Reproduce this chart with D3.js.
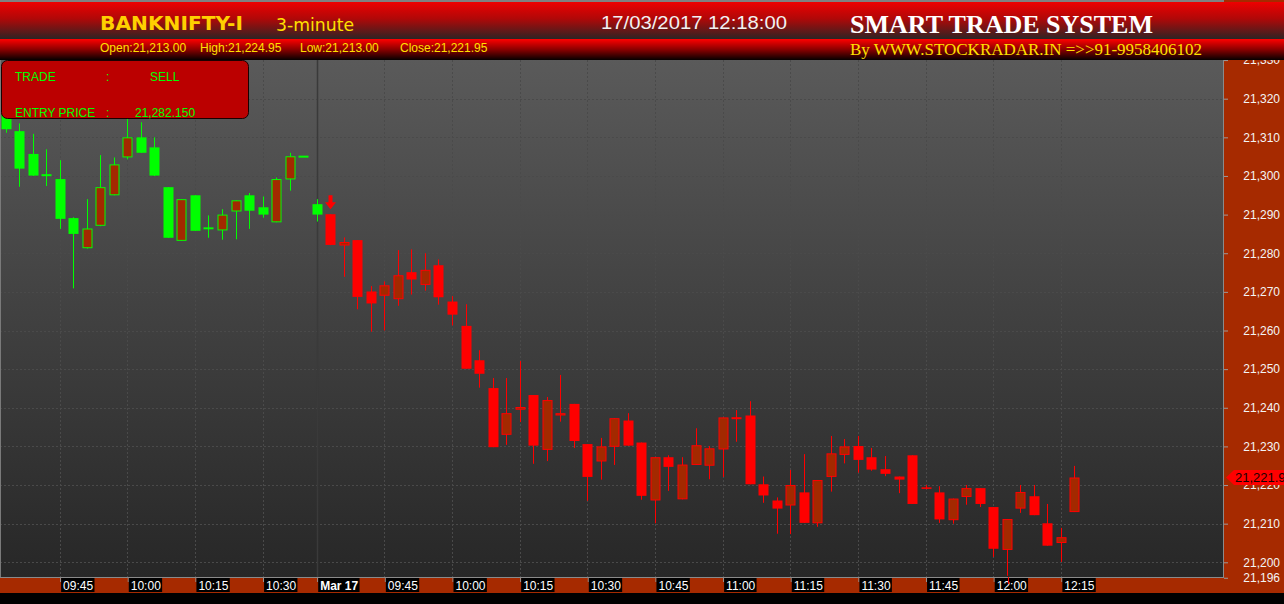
<!DOCTYPE html>
<meta charset="utf-8">
<style>
  body { margin: 0; background: #000; }
  svg { display: block; }
</style>

<!-- Load d3.js -->
<script src="https://d3js.org/d3.v7.min.js"></script>

<svg id="chart"></svg>

<script>

// 3-minute bars, index 0 = 09:33 previous session, index 23 = 09:30 Mar 17
var open  = [21316.0, 21311.6, 21305.7, 21300.2, 21299.2, 21289.1, 21281.3, 21287.1, 21295.0, 21304.8,
             21310.0, 21307.4, 21297.1, 21283.2, 21295.0, 21286.7, 21285.9, 21290.8, 21295.0, 21291.9,
             21288.0, 21299.1, 21305.0, 21292.7, 21290.1, 21282.0, 21283.4, 21270.1, 21269.0, 21268.1,
             21275.1, 21271.8, 21276.9, 21267.5, 21261.2, 21252.3, 21245.1, 21233.0, 21239.5, 21243.3,
             21229.1, 21238.0, 21241.0, 21230.6, 21226.1, 21229.9, 21236.7, 21231.0, 21216.0, 21227.2,
             21216.3, 21225.2, 21225.0, 21229.2, 21237.3, 21238.0, 21220.2, 21216.0, 21214.7, 21218.1,
             21210.1, 21222.1, 21227.8, 21230.1, 21227.2, 21224.1, 21222.2, 21227.7, 21219.4, 21218.1,
             21210.9, 21216.9, 21219.2, 21214.3, 21203.2, 21213.9, 21217.1, 21210.1, 21205.0, 21213.0];
var high  = [21318.0, 21313.6, 21310.9, 21306.9, 21304.1, 21289.3, 21294.0, 21305.4, 21304.8, 21316.0,
             21313.9, 21310.0, 21297.1, 21294.0, 21295.0, 21289.8, 21291.4, 21293.7, 21295.6, 21294.7,
             21299.6, 21306.0, 21305.0, 21294.0, 21290.1, 21284.1, 21283.4, 21271.5, 21272.7, 21280.8,
             21281.0, 21280.0, 21278.4, 21268.9, 21266.8, 21254.9, 21247.7, 21247.7, 21252.1, 21243.3,
             21242.8, 21248.5, 21241.0, 21230.6, 21232.2, 21237.3, 21238.6, 21231.0, 21227.2, 21227.7,
             21227.2, 21234.7, 21230.1, 21237.5, 21239.4, 21241.7, 21222.2, 21216.8, 21223.9, 21228.0,
             21221.3, 21232.7, 21231.9, 21232.7, 21229.6, 21227.5, 21222.2, 21227.7, 21220.0, 21219.7,
             21216.5, 21220.0, 21219.2, 21214.3, 21211.2, 21220.0, 21220.0, 21215.1, 21208.9, 21224.95];
var low   = [21311.2, 21297.2, 21300.0, 21297.4, 21286.3, 21270.9, 21281.2, 21287.0, 21295.0, 21304.3,
             21306.0, 21300.0, 21284.0, 21283.2, 21285.8, 21284.0, 21283.5, 21283.6, 21286.3, 21289.2,
             21288.0, 21296.2, 21305.0, 21288.2, 21282.1, 21273.9, 21265.5, 21259.7, 21260.0, 21266.4,
             21269.3, 21270.3, 21266.7, 21261.3, 21250.1, 21245.2, 21229.8, 21230.4, 21236.3, 21225.5,
             21226.2, 21236.4, 21229.6, 21215.9, 21221.4, 21225.2, 21230.2, 21216.2, 21210.1, 21218.5,
             21216.3, 21225.2, 21221.5, 21222.1, 21231.2, 21220.2, 21215.4, 21207.4, 21207.3, 21210.2,
             21209.2, 21218.3, 21225.6, 21223.2, 21223.7, 21222.3, 21217.9, 21215.1, 21218.9, 21210.2,
             21210.0, 21214.9, 21214.3, 21201.4, 21196.5, 21212.8, 21212.2, 21204.3, 21200.1, 21213.0];
var close = [21312.1, 21301.9, 21300.1, 21300.2, 21288.9, 21285.0, 21286.4, 21297.1, 21303.0, 21310.0,
             21306.0, 21300.1, 21284.0, 21294.0, 21285.8, 21286.2, 21290.0, 21293.7, 21291.0, 21290.0,
             21299.2, 21305.1, 21305.0, 21290.0, 21282.15, 21282.9, 21268.7, 21267.0, 21271.7, 21274.3,
             21273.2, 21275.7, 21268.6, 21264.1, 21250.1, 21248.8, 21229.8, 21238.6, 21240.2, 21230.2,
             21242.0, 21238.6, 21231.4, 21222.1, 21230.0, 21237.3, 21230.2, 21217.2, 21227.2, 21224.7,
             21225.3, 21230.3, 21229.5, 21237.5, 21237.3, 21220.2, 21217.3, 21213.9, 21220.0, 21210.2,
             21221.3, 21228.2, 21230.0, 21226.5, 21224.0, 21222.9, 21221.4, 21215.1, 21219.0, 21211.1,
             21216.5, 21219.2, 21215.1, 21203.5, 21211.2, 21218.2, 21212.2, 21204.3, 21206.5, 21221.95];

var sellIdx = 24;          // bar where the SELL signal fired
var dayStartIdx = 23;      // first bar of Mar 17
var markIdx = 74;          // cursor bar (low 21,196)

var tickIdx    = [4, 9, 14, 19, 23, 28, 33, 38, 43, 48, 53, 58, 63, 68, 73, 78];
var tickLabels = ["09:45", "10:00", "10:15", "10:30", "Mar 17", "09:45", "10:00", "10:15",
                  "10:30", "10:45", "11:00", "11:15", "11:30", "11:45", "12:00", "12:15"];

var yTicks = [21196, 21200, 21210, 21220, 21230, 21240, 21250, 21260, 21270, 21280,
              21290, 21300, 21310, 21320, 21330];
var gridLevels = [21200, 21210, 21220, 21230, 21240, 21250, 21260, 21270, 21280, 21290,
                  21300, 21310, 21320];

var lastBar = { open: "21,213.00", high: "21,224.95", low: "21,213.00", close: "21,221.95" };
var lastClose = 21221.95;
var entryPrice = "21,282.150";

var W = 1284, H = 604,
    plotTop = 60, plotBottom = 577, axisX = 1224;

var svg = d3.select("#chart").attr("width", W).attr("height", H);
var defs = svg.append("defs");

var x = d3.scaleLinear().domain([0, open.length - 1]).range([5.5, 1074.4]);
var y = d3.scaleLinear().domain([21200, 21320]).range([562.3, 98.7]);

function grad(id, stops) {
  var lg = defs.append("linearGradient").attr("id", id)
    .attr("x1", 0).attr("y1", 0).attr("x2", 0).attr("y2", 1);
  stops.forEach(function (s) {
    lg.append("stop").attr("offset", s[0]).attr("stop-color", s[1]);
  });
}
grad("plotBg", [[0, "#5a5a5a"], [1, "#272727"]]);
grad("head1", [[0, "#ee0000"], [0.45, "#b00808"], [1, "#2e2424"]]);
grad("head2", [[0, "#ff0000"], [0.5, "#8a0000"], [1, "#050000"]]);

// plot background
svg.append("rect").attr("x", 0).attr("y", plotTop)
  .attr("width", axisX).attr("height", plotBottom - plotTop)
  .attr("fill", "url(#plotBg)");

// grid
svg.append("g").selectAll("line").data(gridLevels).join("line")
  .attr("x1", 0).attr("x2", axisX)
  .attr("y1", function (d) { return Math.round(y(d)) + 0.5; })
  .attr("y2", function (d) { return Math.round(y(d)) + 0.5; })
  .attr("stroke", "#4a4a4a").attr("stroke-dasharray", "2,2");

svg.append("g").selectAll("line").data(tickIdx).join("line")
  .attr("x1", function (d) { return Math.round(x(d)) + 0.5; })
  .attr("x2", function (d) { return Math.round(x(d)) + 0.5; })
  .attr("y1", plotTop).attr("y2", plotBottom)
  .attr("stroke", function (d) { return d === dayStartIdx ? "#3a3a3a" : "#4a4a4a"; })
  .attr("stroke-width", function (d) { return d === dayStartIdx ? 1.5 : 1; })
  .attr("stroke-dasharray", function (d) { return d === dayStartIdx ? null : "2,2"; });

svg.append("line").attr("x1", 0.5).attr("x2", 0.5).attr("y1", plotTop).attr("y2", plotBottom)
  .attr("stroke", "#7a7a7a");

// candles
var hollowFill = "#a32900";
function trendColor(i) { return i < sellIdx ? "#00ff00" : "#ff0000"; }

var candle = svg.append("g").selectAll("g").data(d3.range(open.length)).join("g");

candle.append("line")
  .attr("x1", function (i) { return Math.round(x(i)) + 0.5; })
  .attr("x2", function (i) { return Math.round(x(i)) + 0.5; })
  .attr("y1", function (i) { return y(high[i]); })
  .attr("y2", function (i) { return y(low[i]); })
  .attr("stroke", trendColor);

candle.append("rect")
  .attr("x", function (i) { return Math.round(x(i)) - 4.5 + (close[i] > open[i] ? 0.5 : 0); })
  .attr("width", function (i) { return close[i] > open[i] ? 9 : 10; })
  .attr("y", function (i) {
    var t = y(Math.max(open[i], close[i]));
    if (close[i] === open[i]) return t - 1;
    return close[i] > open[i] ? t + 0.5 : t;
  })
  .attr("height", function (i) {
    var h = Math.abs(y(open[i]) - y(close[i]));
    if (close[i] === open[i]) return 2;
    return close[i] > open[i] ? Math.max(1, h - 1) : Math.max(1, h);
  })
  .attr("fill", function (i) { return close[i] > open[i] ? hollowFill : trendColor(i); })
  .attr("stroke", function (i) { return close[i] > open[i] ? trendColor(i) : "none"; });

// sell arrow
var ax = Math.round(x(sellIdx)) + 0.5, ay = y(high[sellIdx]) - 5;
svg.append("path")
  .attr("d", "M" + (ax - 2) + "," + (ay - 14) + "h4v7h3.5l-5.5,7l-5.5,-7h3.5z")
  .attr("fill", "#ff0000");

// trade box
svg.append("rect").attr("x", 1.5).attr("y", plotTop + 0.5)
  .attr("width", 247).attr("height", 58).attr("rx", 6)
  .attr("fill", "#bb0000").attr("stroke", "#1a0000");

var tradeText = svg.append("g").attr("fill", "#00ff00")
  .attr("font-family", "'Liberation Sans', Arial, sans-serif").attr("font-size", 12);
[[15, 81, "TRADE"], [106, 81, ":"], [150, 81, "SELL"],
 [15, 117, "ENTRY PRICE"], [106, 117, ":"], [135, 117, entryPrice]].forEach(function (t) {
  tradeText.append("text").attr("x", t[0]).attr("y", t[1]).text(t[2]);
});

// right price axis
svg.append("rect").attr("x", axisX).attr("y", 0).attr("width", W - axisX).attr("height", 593)
  .attr("fill", "#a62a00");
svg.append("line").attr("x1", axisX - 0.5).attr("x2", axisX - 0.5).attr("y1", plotTop).attr("y2", 593)
  .attr("stroke", "#8a8a8a");

var yAxis = svg.append("g").attr("transform", "translate(" + axisX + ",0)")
  .call(d3.axisRight(y).tickValues(yTicks).tickFormat(d3.format(",")).tickSize(4));
yAxis.select(".domain").remove();
yAxis.selectAll(".tick line").attr("stroke", "#9a9a9a");
yAxis.selectAll(".tick text")
  .attr("x", 56).attr("text-anchor", "end").attr("fill", "#f4f4f4")
  .attr("font-family", "'Liberation Sans', Arial, sans-serif").attr("font-size", 12);

// last price marker
var ly = y(lastClose);
svg.append("path")
  .attr("d", "M1226," + ly + "L1234," + (ly - 7.5) + "H1284V" + (ly + 7.5) + "H1234Z")
  .attr("fill", "#ff0000");
svg.append("text").attr("x", 1235).attr("y", ly + 4.5)
  .attr("fill", "#1a0000").attr("font-size", 13)
  .attr("font-family", "'Liberation Sans', Arial, sans-serif")
  .text(d3.format(",.2f")(lastClose));

// time axis
svg.append("rect").attr("x", 0).attr("y", plotBottom).attr("width", axisX).attr("height", 16)
  .attr("fill", "#a62a00");
svg.append("line").attr("x1", 0).attr("x2", axisX).attr("y1", plotBottom + 0.5).attr("y2", plotBottom + 0.5)
  .attr("stroke", "#8a8a8a");

var xAxis = svg.append("g").attr("transform", "translate(0," + (plotBottom + 1) + ")")
  .call(d3.axisBottom(x).tickValues(tickIdx)
    .tickFormat(function (d, i) { return tickLabels[i]; }).tickSize(4));
xAxis.select(".domain").remove();
xAxis.selectAll(".tick line").attr("stroke", "#9a9a9a").attr("transform", "translate(0.5,0)");
xAxis.selectAll(".tick text")
  .attr("x", 3).attr("y", 1).attr("dy", "0.9em").attr("text-anchor", "start")
  .attr("fill", "#ffffff")
  .attr("font-family", "'Liberation Sans', Arial, sans-serif").attr("font-size", 12)
  .attr("font-weight", function (d) { return d === dayStartIdx ? "bold" : null; });
xAxis.selectAll(".tick").each(function () {
  var t = d3.select(this), b = t.select("text").node().getBBox();
  t.insert("rect", "text").attr("x", 1).attr("y", 0)
    .attr("width", b.width + 3).attr("height", 14).attr("fill", "#000");
});

// cursor mark on time axis
svg.append("line")
  .attr("x1", Math.round(x(markIdx)) + 1.5).attr("x2", Math.round(x(markIdx)) + 1.5)
  .attr("y1", plotBottom).attr("y2", plotBottom + 7).attr("stroke", "#ff0000");

// header
svg.append("rect").attr("x", 0).attr("y", 0).attr("width", axisX).attr("height", 2).attr("fill", "#808080");
svg.append("rect").attr("x", 0).attr("y", 2).attr("width", W).attr("height", 37).attr("fill", "url(#head1)");
svg.append("rect").attr("x", 0).attr("y", 39).attr("width", W).attr("height", 21).attr("fill", "url(#head2)");

svg.append("text").attr("x", 100).attr("y", 30)
  .attr("font-family", "'DejaVu Sans', Verdana, sans-serif").attr("font-weight", "bold")
  .attr("font-size", 20).attr("fill", "#ffd000")
  .attr("textLength", 143).attr("lengthAdjust", "spacingAndGlyphs").text("BANKNIFTY-I");
svg.append("text").attr("x", 276).attr("y", 31)
  .attr("font-family", "'DejaVu Sans', sans-serif").attr("font-size", 18).attr("fill", "#ffe000")
  .attr("textLength", 78).attr("lengthAdjust", "spacingAndGlyphs").text("3-minute");
svg.append("text").attr("x", 601).attr("y", 29)
  .attr("font-family", "'Liberation Sans', Arial, sans-serif").attr("font-size", 19).attr("fill", "#f2f2f2")
  .attr("textLength", 186).attr("lengthAdjust", "spacingAndGlyphs").text("17/03/2017 12:18:00");
svg.append("text").attr("x", 850).attr("y", 33)
  .attr("font-family", "'Liberation Serif', 'Times New Roman', serif").attr("font-weight", "bold")
  .attr("font-size", 25).attr("fill", "#ffffff")
  .attr("textLength", 303).attr("lengthAdjust", "spacingAndGlyphs").text("SMART TRADE SYSTEM");

var ohlc = svg.append("g").attr("fill", "#ffe000")
  .attr("font-family", "'Liberation Sans', Arial, sans-serif").attr("font-size", 12);
[[100, "Open:" + lastBar.open], [200, "High:" + lastBar.high],
 [300, "Low:" + lastBar.low], [400, "Close:" + lastBar.close]].forEach(function (t) {
  ohlc.append("text").attr("x", t[0]).attr("y", 52).text(t[1]);
});
svg.append("text").attr("x", 850).attr("y", 55)
  .attr("font-family", "'Liberation Serif', 'Times New Roman', serif").attr("font-size", 17)
  .attr("fill", "#ffe000")
  .attr("textLength", 352).attr("lengthAdjust", "spacingAndGlyphs")
  .text("By WWW.STOCKRADAR.IN =>>91-9958406102");

</script>
